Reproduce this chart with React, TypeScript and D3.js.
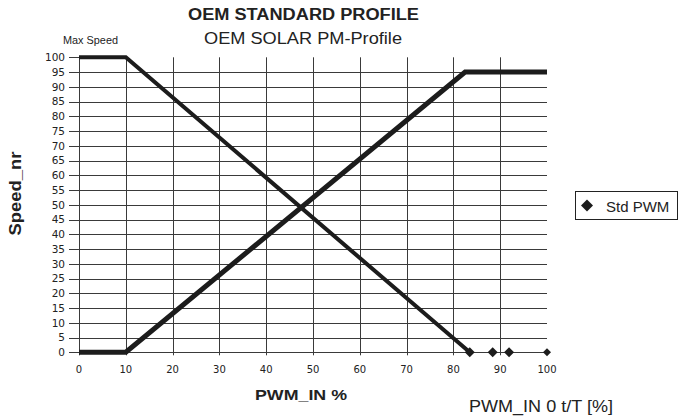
import React from "react";
import * as d3 from "d3";

const xTicks = [0, 10, 20, 30, 40, 50, 60, 70, 80, 90, 100];
const yTicks = [0, 5, 10, 15, 20, 25, 30, 35, 40, 45, 50, 55, 60, 65, 70, 75, 80, 85, 90, 95, 100];
const risingX = [0, 10, 82.5, 100];
const risingY = [0, 0, 95, 95];
const fallingX = [0, 10, 83.5];
const fallingY = [100, 100, 0];
const stdPwmX = [83.5, 88.4, 91.9, 100];
const stdPwmY = [0, 0, 0, 0];
const stdPwmSize = [10, 10, 10, 8];

const W = 680;
const H = 417;

export default function App() {
  const x = d3.scaleLinear().domain([0, 100]).range([79, 547]);
  const y = d3.scaleLinear().domain([0, 100]).range([352.3, 57.3]);
  const line = d3
    .line<[number, number]>()
    .x((d) => x(d[0]))
    .y((d) => y(d[1]));
  const rising = risingX.map((v, i) => [v, risingY[i]] as [number, number]);
  const falling = fallingX.map((v, i) => [v, fallingY[i]] as [number, number]);
  const ink = "#1c1c1c";
  const grid = "#3a3a3a";
  const font = "'Liberation Sans', Arial, sans-serif";
  const tickFont = "'DejaVu Sans', sans-serif";
  const diamond = (cx: number, cy: number, s: number) =>
    `M${cx},${cy - s / 2}L${cx + s / 2},${cy}L${cx},${cy + s / 2}L${cx - s / 2},${cy}Z`;

  return (
    <svg
      width={W}
      height={H}
      style={{ position: "absolute", left: 0, top: 0, background: "#fff" }}
      fontFamily={font}
    >
      <rect x={0} y={0} width={W} height={H} fill="#fff" />
      {yTicks.map((t) => (
        <line
          key={"h" + t}
          x1={69}
          x2={t === 100 ? x(0) : x(100)}
          y1={Math.round(y(t)) + 0.5}
          y2={Math.round(y(t)) + 0.5}
          stroke={grid}
          strokeWidth={1}
        />
      ))}
      {xTicks
        .filter((t) => t < 100)
        .map((t) => (
          <line
            key={"v" + t}
            x1={Math.round(x(t)) + 0.5}
            x2={Math.round(x(t)) + 0.5}
            y1={y(100)}
            y2={y(0) + 3}
            stroke={grid}
            strokeWidth={1}
          />
        ))}
      {yTicks.map((t) => (
        <text
          key={"yl" + t}
          x={65}
          y={y(t) + 3.8}
          textAnchor="end"
          fontSize={10.5}
          fontFamily={tickFont}
          fill="#222"
        >
          {t}
        </text>
      ))}
      {xTicks.map((t) => (
        <text
          key={"xl" + t}
          x={x(t)}
          y={372.5}
          textAnchor="middle"
          fontSize={10}
          fontFamily={tickFont}
          fill="#222"
        >
          {t}
        </text>
      ))}
      <path d={line(falling) || ""} fill="none" stroke={ink} strokeWidth={4} strokeLinejoin="miter" />
      <path d={line(rising) || ""} fill="none" stroke={ink} strokeWidth={5} strokeLinejoin="miter" />
      {stdPwmX.map((v, i) => (
        <path key={"m" + i} d={diamond(x(v), y(stdPwmY[i]), stdPwmSize[i])} fill={ink} />
      ))}
      <text x={303.5} y={20} textAnchor="middle" fontSize={16} fontWeight="bold" fill="#222" textLength={231} lengthAdjust="spacingAndGlyphs">
        OEM STANDARD PROFILE
      </text>
      <text x={303} y={44} textAnchor="middle" fontSize={16} fill="#222" textLength={198} lengthAdjust="spacingAndGlyphs">
        OEM SOLAR PM-Profile
      </text>
      <text x={63} y={44} fontSize={10.5} fill="#222" textLength={55} lengthAdjust="spacingAndGlyphs">
        Max Speed
      </text>
      <text x={255} y={400} fontSize={15} fontWeight="bold" fill="#222" textLength={92} lengthAdjust="spacingAndGlyphs">
        PWM_IN %
      </text>
      <text x={469} y={411.5} fontSize={17} fill="#222" textLength={144} lengthAdjust="spacingAndGlyphs">
        PWM_IN 0 t/T [%]
      </text>
      <text
        transform="translate(21,193.5) rotate(-90)"
        textAnchor="middle"
        fontSize={17}
        fontWeight="bold"
        fill="#222"
        textLength={84}
        lengthAdjust="spacingAndGlyphs"
      >
        Speed_nr
      </text>
      <rect x={575.5} y={191.5} width={102} height={28} fill="#fff" stroke="#222" strokeWidth={1} />
      <path d={diamond(587, 205.5, 12)} fill={ink} />
      <text x={606} y={211.5} fontSize={15} fill="#222">
        Std PWM
      </text>
    </svg>
  );
}
